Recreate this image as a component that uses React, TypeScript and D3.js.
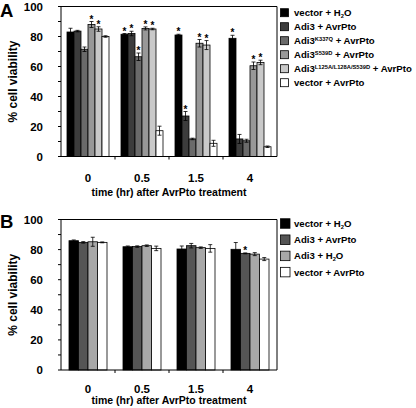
import React from "react";
import * as d3 from "d3";

const categories = ["0", "0.5", "1.5", "4"];

// Panel A
const seriesA = ["vector + H2O", "Adi3 + AvrPto", "Adi3K337Q + AvrPto", "Adi3S539D + AvrPto", "Adi3L125A/L128A/S539D + AvrPto", "vector + AvrPto"];
const valuesA = [
  [83, 83.6, 71.5, 88, 85, 80],
  [81.5, 82, 66.5, 85.4, 85, 17.2],
  [81, 27, 11.7, 75.5, 74.3, 8.8],
  [78.8, 11.7, 10.5, 60.5, 62.7, 6.5],
];
const errorsA = [
  [2.5, 0.5, 1.5, 2, 1.5, 0.5],
  [0.5, 1.5, 2.5, 1, 0.5, 3],
  [0.5, 3, 0.5, 2.5, 3, 2],
  [2, 3, 1, 2.5, 1.5, 0.5],
];
const starsA = [
  [false, false, false, true, true, false],
  [true, true, true, true, true, false],
  [true, true, false, true, true, false],
  [true, false, false, true, true, false],
];
const colorsA = ["#000000", "#3c3c3c", "#6a6a6a", "#989898", "#c9c9c9", "#ffffff"];

// Panel B
const seriesB = ["vector + H2O", "Adi3 + AvrPto", "Adi3 + H2O", "vector + AvrPto"];
const valuesB = [
  [85.9, 84.8, 85.2, 84.8],
  [81.9, 82, 82.6, 80.8],
  [80.4, 82.6, 81.3, 80.8],
  [80.2, 77.5, 77, 73.7],
];
const errorsB = [
  [0.5, 0.5, 3, 0.3],
  [0.5, 0.5, 0.5, 1.5],
  [2, 1.5, 0.5, 2.5],
  [4.5, 0.3, 1, 1],
];
const starsB = [
  [false, false, false, false],
  [false, false, false, false],
  [false, false, false, false],
  [false, true, false, false],
];
const colorsB = ["#000000", "#555555", "#a8a8a8", "#ffffff"];

const yTicks = [0, 20, 40, 60, 80, 100];
const yMinor = d3.range(0, 101, 10);

const FONT = "'Liberation Sans', Arial, Helvetica, sans-serif";

function LegendLabel({ name, x, y, size }: { name: string; x: number; y: number; size: number }) {
  const sub = size * 0.6;
  if (name === "vector + H2O" || name === "Adi3 + H2O") {
    const base = name.replace(" H2O", " H");
    return (
      <text x={x} y={y} fontSize={size} fontWeight="bold" fontFamily={FONT}>
        {base}
        <tspan fontSize={sub} dy={2}>2</tspan>
        <tspan dy={-2}>O</tspan>
      </text>
    );
  }
  const m = name.match(/^Adi3(K337Q|S539D|L125A\/L128A\/S539D) (.*)$/);
  if (m) {
    return (
      <text x={x} y={y} fontSize={size} fontWeight="bold" fontFamily={FONT}>
        Adi3
        <tspan fontSize={sub} dy={-3}>{m[1]}</tspan>
        <tspan dy={3}>{" " + m[2]}</tspan>
      </text>
    );
  }
  return (
    <text x={x} y={y} fontSize={size} fontWeight="bold" fontFamily={FONT}>
      {name}
    </text>
  );
}

function Panel(props: {
  letter: string;
  top: number;
  bottom: number;
  series: string[];
  values: number[][];
  errors: number[][];
  stars: boolean[][];
  colors: string[];
  barW: number;
  legendTop: number;
  legendStep: number;
  legendBox: number;
  letterY: number;
  tickLabelY: number;
  titleY: number;
}) {
  const { top, bottom, series, values, errors, stars, colors, barW } = props;
  const left = 61;
  const right = 277;
  const y = d3.scaleLinear().domain([0, 100]).range([bottom, top]);
  const x0 = d3.scaleBand<string>().domain(categories).range([left, right]).padding(0);
  const gw = x0.bandwidth();
  const po = (gw / barW - series.length) / 2;
  const x1 = d3.scaleBand<string>().domain(series).range([0, gw]).paddingInner(0).paddingOuter(po);
  const bw = x1.bandwidth();
  return (
    <g>
      <text x={0} y={props.letterY} fontSize={18.5} fontWeight="bold" fontFamily={FONT}>
        {props.letter}
      </text>
      <text
        transform={`translate(17,${(top + bottom) / 2}) rotate(-90)`}
        textAnchor="middle"
        fontSize={12}
        fontWeight="bold"
        fontFamily={FONT}
      >
        % cell viability
      </text>
      {yMinor.map((t) => (
        <line key={"m" + t} x1={left - 3} x2={left} y1={y(t)} y2={y(t)} stroke="#000" />
      ))}
      {yTicks.map((t) => (
        <text
          key={t}
          x={43}
          y={y(t) + 4}
          textAnchor="end"
          fontSize={11.5}
          fontWeight="bold"
          fontFamily={FONT}
        >
          {t}
        </text>
      ))}
      {categories.map((c, ci) => (
        <g key={c}>
          {series.map((s, si) => {
            const v = values[ci][si];
            const e = errors[ci][si];
            const bx = (x0(c) as number) + (x1(s) as number);
            const cx = bx + bw / 2;
            return (
              <g key={s}>
                <rect x={bx} y={y(v)} width={bw} height={y(0) - y(v)} fill={colors[si]} stroke="#000" strokeWidth={0.8} />
                <line x1={cx} x2={cx} y1={y(v + e)} y2={y(v - e)} stroke="#000" strokeWidth={0.8} />
                <line x1={cx - 2} x2={cx + 2} y1={y(v + e)} y2={y(v + e)} stroke="#000" strokeWidth={0.8} />
                <line x1={cx - 2} x2={cx + 2} y1={y(v - e)} y2={y(v - e)} stroke="#000" strokeWidth={0.8} />
                {stars[ci][si] && (
                  <text x={cx} y={y(v + e) + 1} textAnchor="middle" fontSize={10} fontWeight="bold" fontFamily={FONT}>
                    *
                  </text>
                )}
              </g>
            );
          })}
          <text
            x={(x0(c) as number) + gw / 2}
            y={props.tickLabelY}
            textAnchor="middle"
            fontSize={11.5}
            fontWeight="bold"
            fontFamily={FONT}
          >
            {c}
          </text>
        </g>
      ))}
      {categories.slice(1).map((c) => (
        <line key={"xt" + c} x1={x0(c) as number} x2={x0(c) as number} y1={bottom} y2={bottom + 3} stroke="#000" />
      ))}
      <line x1={left} x2={left} y1={top} y2={bottom} stroke="#000" />
      <line x1={left} x2={right} y1={bottom} y2={bottom} stroke="#000" />
      <line x1={left} x2={right} y1={top} y2={top} stroke="#000" />
      <line x1={right} x2={right} y1={top} y2={bottom} stroke="#000" />
      <text
        x={(left + right) / 2}
        y={props.titleY}
        textAnchor="middle"
        fontSize={10.5}
        fontWeight="bold"
        fontFamily={FONT}
      >
        time (hr) after AvrPto treatment
      </text>
      {series.map((s, si) => {
        const ly = props.legendTop + si * props.legendStep;
        return (
          <g key={"lg" + s}>
            <rect x={280.5} y={ly - props.legendBox / 2} width={props.legendBox} height={props.legendBox} fill={colors[si]} stroke="#000" strokeWidth={0.8} />
            <LegendLabel name={s} x={294} y={ly + 3.5} size={9.6} />
          </g>
        );
      })}
    </g>
  );
}

export default function App() {
  return (
    <svg width={416} height={408} style={{ position: "absolute", left: 0, top: 0, background: "#fff" }}>
      <rect width={416} height={408} fill="#fff" />
      <Panel
        letter="A"
        top={6.5}
        bottom={156.5}
        series={seriesA}
        values={valuesA}
        errors={errorsA}
        stars={starsA}
        colors={colorsA}
        barW={7}
        legendTop={12.7}
        legendStep={14}
        legendBox={8}
        letterY={16.5}
        tickLabelY={182}
        titleY={196}
      />
      <Panel
        letter="B"
        top={219.5}
        bottom={370}
        series={seriesB}
        values={valuesB}
        errors={errorsB}
        stars={starsB}
        colors={colorsB}
        barW={9.5}
        legendTop={223.5}
        legendStep={16.2}
        legendBox={9.5}
        letterY={228}
        tickLabelY={393}
        titleY={404}
      />
    </svg>
  );
}
